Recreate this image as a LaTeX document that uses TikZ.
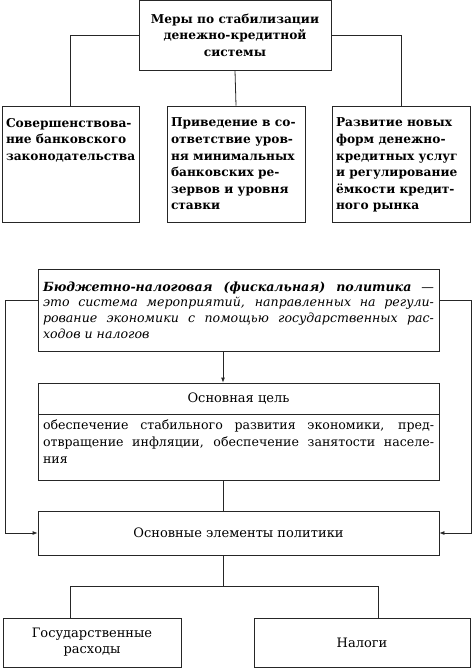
\documentclass[tikz,border=0pt]{standalone}
\usepackage{fontspec}
\setmainfont{DejaVu Serif}
\usetikzlibrary{calc,arrows.meta}
\begin{document}
\begin{tikzpicture}[x=1pt,y=-1pt,
  box/.style={draw=black!85,line width=0.8pt,inner sep=0pt,minimum width=#1},
  conn/.style={draw=black!85,line width=0.8pt},
  arr/.style={conn,-{Latex[length=5pt,width=4pt]}},
  fs/.style={font=\fontsize{13}{16}\selectfont}
]
\useasboundingbox (0,0) rectangle (473,668);
% top section
\node[box=192,minimum height=70,align=center,font=\bfseries\fontsize{12.2}{16.5}\selectfont] (top) at (235,35)
  {Меры по стабилизации\\денежно-кредитной\\системы};
\node[box=137,minimum height=116] (b1) at (70.5,164)
  {\parbox[c][92pt][t]{129pt}{\bfseries\fontsize{12.2}{16.6}\selectfont\raggedright
  Совершенствова-\\ние банковского\\законодательства}};
\node[box=138,minimum height=116] (b2) at (236,164)
  {\parbox[c][92pt][t]{130pt}{\bfseries\fontsize{12.2}{16.6}\selectfont\raggedright
  Приведение в со-\\ответствие уров-\\ня минимальных\\банковских ре-\\зервов и уровня\\ставки}};
\node[box=138,minimum height=116] (b3) at (401,164)
  {\parbox[c][92pt][t]{130pt}{\bfseries\fontsize{12.2}{16.6}\selectfont\raggedright
  Развитие новых\\форм денежно-\\кредитных услуг\\и регулирование\\ёмкости кредит-\\ного рынка}};
\draw[conn] (top.west) -| (b1.north);
\draw[conn] (top.east) -| (b3.north);
\draw[conn] (top.south) -- (b2.north);
% bottom section
\node[box=401,minimum height=82] (fisc) at (238.5,310)
  {\parbox{391pt}{\itshape\fontsize{12.6}{15.7}\selectfont
  \textbf{Бюджетно-налоговая (фискальная) политика} —\linebreak
  это система мероприятий, направленных на регули-\linebreak
  рование экономики с помощью государственных рас-\linebreak
  ходов и налогов}};
\node[box=401,minimum height=31,fs] (goalh) at (238.5,398.5) {Основная цель};
\node[box=401,minimum height=66] (goalb) at (238.5,447)
  {\parbox[c][54pt][t]{391pt}{\fontsize{12.6}{17}\selectfont
  обеспечение стабильного развития экономики, пред-\linebreak
  отвращение инфляции, обеспечение занятости населе-\linebreak
  ния}};
\node[box=401,minimum height=44,fs] (elem) at (238.5,533) {Основные элементы политики};
\node[box=178,minimum height=49,align=center,font=\fontsize{13}{16}\selectfont] (gr) at (92,642.5)
  {Государственные\\расходы};
\node[box=216,minimum height=49,fs] (tax) at (362,642.5) {Налоги};
\coordinate (cx) at (223,0);
\coordinate (lx) at (5,0);
\coordinate (rx) at (471,0);
\coordinate (fl) at ($(fisc.north west)!0.39!(fisc.south west)$);
\coordinate (fr) at ($(fisc.north east)!0.39!(fisc.south east)$);
\draw[arr] (fisc.south -| cx) -- (goalh.north -| cx);
\draw[conn] (goalb.south -| cx) -- (elem.north -| cx);
\draw[arr] (fl) -- (fl -| lx) -- (elem.west -| lx) -- (elem.west);
\draw[arr] (fr) -- (fr -| rx) -- (elem.east -| rx) -- (elem.east);
\coordinate (j) at (223,586);
\coordinate (jl) at (70,586);
\coordinate (jr) at (378,586);
\draw[conn] (elem.south -| cx) -- (j);
\draw[conn] (jl |- gr.north) -- (jl) -- (jr) -- (jr |- tax.north);
\end{tikzpicture}
\end{document}
